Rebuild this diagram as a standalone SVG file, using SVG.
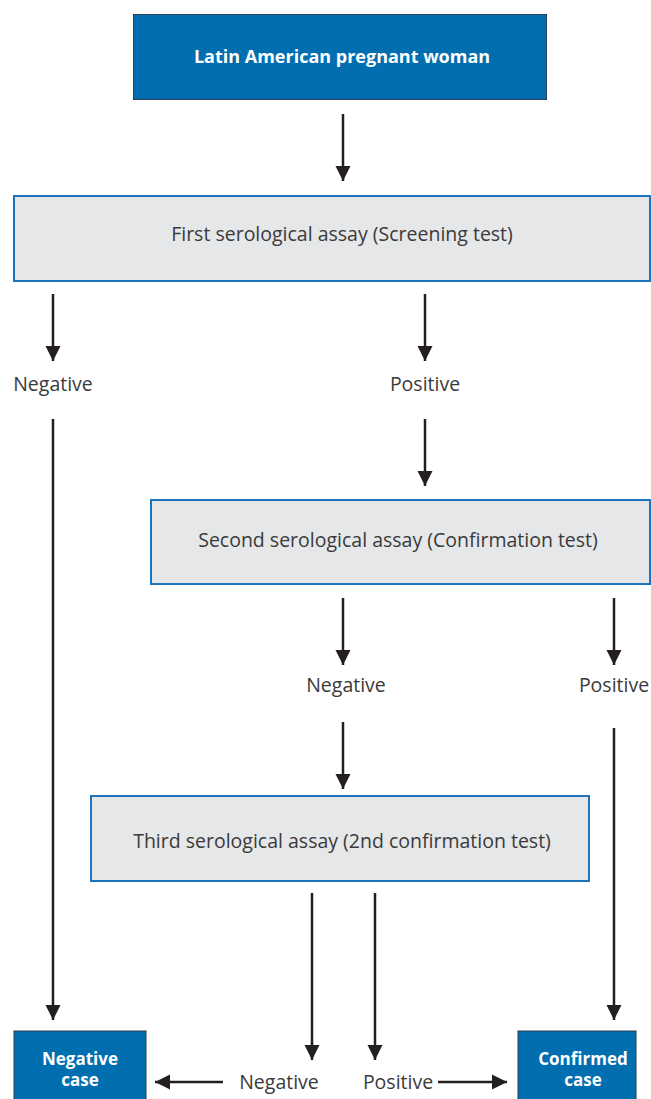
<svg xmlns="http://www.w3.org/2000/svg" width="651" height="1099" viewBox="0 0 651 1099">
<defs>
<style>
.blue{fill:#006EAF;stroke:#2a3f50;stroke-width:1}
.grey{fill:#E6E7E9;stroke:#1C75BC;stroke-width:2}
.bt{font-family:"Open Sans","Noto Sans",sans-serif;font-weight:bold;font-size:18px;fill:#fff;text-anchor:middle}
.bs{font-family:"Open Sans","Noto Sans",sans-serif;font-weight:bold;font-size:17px;fill:#fff;text-anchor:middle}
.t{font-family:"Open Sans","Noto Sans",sans-serif;font-size:19.5px;fill:#3a3a3a;text-anchor:middle}
.c{stroke:#231F20;stroke-width:2.5;fill:none;marker-end:url(#ah)}
</style>
<marker id="ah" viewBox="0 0 10 10" refX="10" refY="5" markerWidth="6" markerHeight="6.5" orient="auto" markerUnits="strokeWidth"><path d="M0,0 L10,5 L0,10 Z" fill="#231F20"/></marker>
</defs>
<g id="connectors">
<line class="c" x1="343" y1="114" x2="343" y2="181"/>
<line class="c" x1="53" y1="294" x2="53" y2="361"/>
<line class="c" x1="425" y1="294" x2="425" y2="361"/>
<line class="c" x1="425" y1="419" x2="425" y2="486"/>
<line class="c" x1="343" y1="598" x2="343" y2="665"/>
<line class="c" x1="614" y1="598" x2="614" y2="665"/>
<line class="c" x1="343" y1="722" x2="343" y2="789"/>
<line class="c" x1="53" y1="419" x2="53" y2="1020"/>
<line class="c" x1="614" y1="728" x2="614" y2="1020"/>
<line class="c" x1="312" y1="893" x2="312" y2="1060"/>
<line class="c" x1="375" y1="893" x2="375" y2="1060"/>
<line class="c" x1="223" y1="1082" x2="155" y2="1082"/>
<line class="c" x1="438" y1="1082" x2="507" y2="1082"/>
</g>
<g id="start"><rect class="blue" x="133.5" y="14.5" width="413" height="85"/><text class="bt" x="342" y="63">Latin American pregnant woman</text></g>
<g id="first"><rect class="grey" x="14" y="196" width="636" height="85"/><text class="t" x="342" y="241">First serological assay (Screening test)</text></g>
<g id="neg1"><text class="t" x="53" y="391">Negative</text></g>
<g id="pos1"><text class="t" x="425" y="391">Positive</text></g>
<g id="second"><rect class="grey" x="151" y="500" width="499" height="84"/><text class="t" x="398" y="547">Second serological assay (Confirmation test)</text></g>
<g id="neg2"><text class="t" x="346" y="692">Negative</text></g>
<g id="pos2"><text class="t" x="614" y="692">Positive</text></g>
<g id="third"><rect class="grey" x="91" y="796" width="498" height="85"/><text class="t" x="342" y="848">Third serological assay (2nd confirmation test)</text></g>
<g id="negcase"><rect class="blue" x="14" y="1031" width="132" height="70"/><text class="bs" x="80" y="1065">Negative</text><text class="bs" x="80" y="1086">case</text></g>
<g id="confcase"><rect class="blue" x="518" y="1031" width="118" height="70"/><text class="bs" x="583" y="1065">Confirmed</text><text class="bs" x="583" y="1086">case</text></g>
<g id="neg3"><text class="t" x="279" y="1089">Negative</text></g>
<g id="pos3"><text class="t" x="398" y="1089">Positive</text></g>
</svg>
